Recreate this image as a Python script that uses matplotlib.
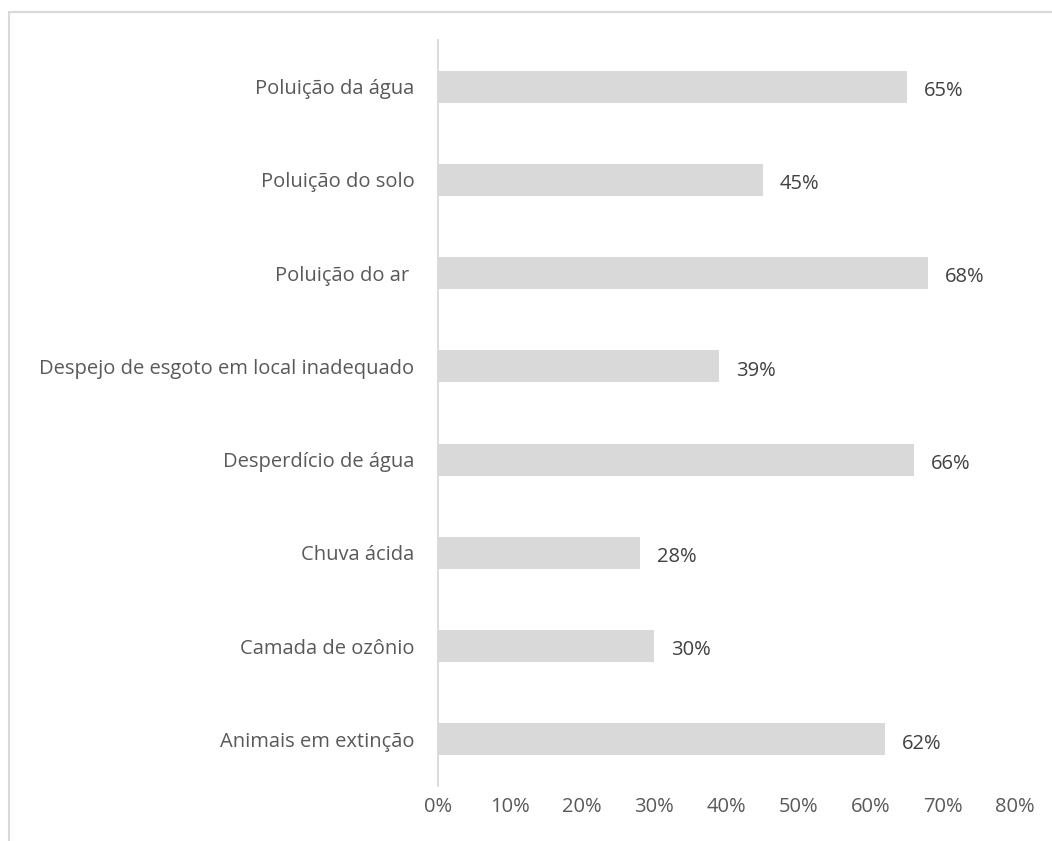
import matplotlib.pyplot as plt
from matplotlib.patches import Rectangle

categories = [
    "Poluição da água",
    "Poluição do solo",
    "Poluição do ar ",
    "Despejo de esgoto em local inadequado",
    "Desperdício de água",
    "Chuva ácida",
    "Camada de ozônio",
    "Animais em extinção",
]
values = [65, 45, 68, 39, 66, 28, 30, 62]
x_ticks = [0, 10, 20, 30, 40, 50, 60, 70, 80]


def main() -> None:
    plt.rcParams["font.family"] = ["Open Sans", "DejaVu Sans"]

    fig = plt.figure(figsize=(10.52, 8.41), dpi=100)
    ax = fig.add_axes([438 / 1052, 1 - 786 / 841, (1015 - 438) / 1052, (786 - 40) / 841])

    # bars listed top to bottom
    pos = list(range(len(categories)))[::-1]
    ax.barh(pos, values, height=0.345, color="#d9d9d9")

    for p, v in zip(pos, values):
        ax.annotate(f"{v}%", xy=(v, p), xytext=(12, -3), textcoords="offset points",
                    ha="left", va="center", fontsize=14.5, color="#404040")

    ax.set_xlim(0, 80)
    ax.set_ylim(-0.5, len(categories) - 0.5)
    ax.set_yticks(pos)
    ax.set_yticklabels(categories)
    ax.set_xticks(x_ticks)
    ax.set_xticklabels([f"{t}%" for t in x_ticks])
    ax.tick_params(axis="y", length=0, pad=17, labelsize=14.5, labelcolor="#595959")
    ax.tick_params(axis="x", length=0, pad=8, labelsize=14.5, labelcolor="#595959")

    for side in ["top", "right", "bottom"]:
        ax.spines[side].set_visible(False)
    ax.spines["left"].set_color("#d9d9d9")
    ax.spines["left"].set_linewidth(1.3)

    # chart area frame, cut off at the right and bottom edges
    fig.patches.append(Rectangle((9 / 1052, -0.1), 1.2, 1.1 - 12 / 841,
                                 transform=fig.transFigure, fill=False,
                                 edgecolor="#d9d9d9", linewidth=1.5))

    fig.savefig("out.png", dpi=100)


if __name__ == "__main__":
    main()
